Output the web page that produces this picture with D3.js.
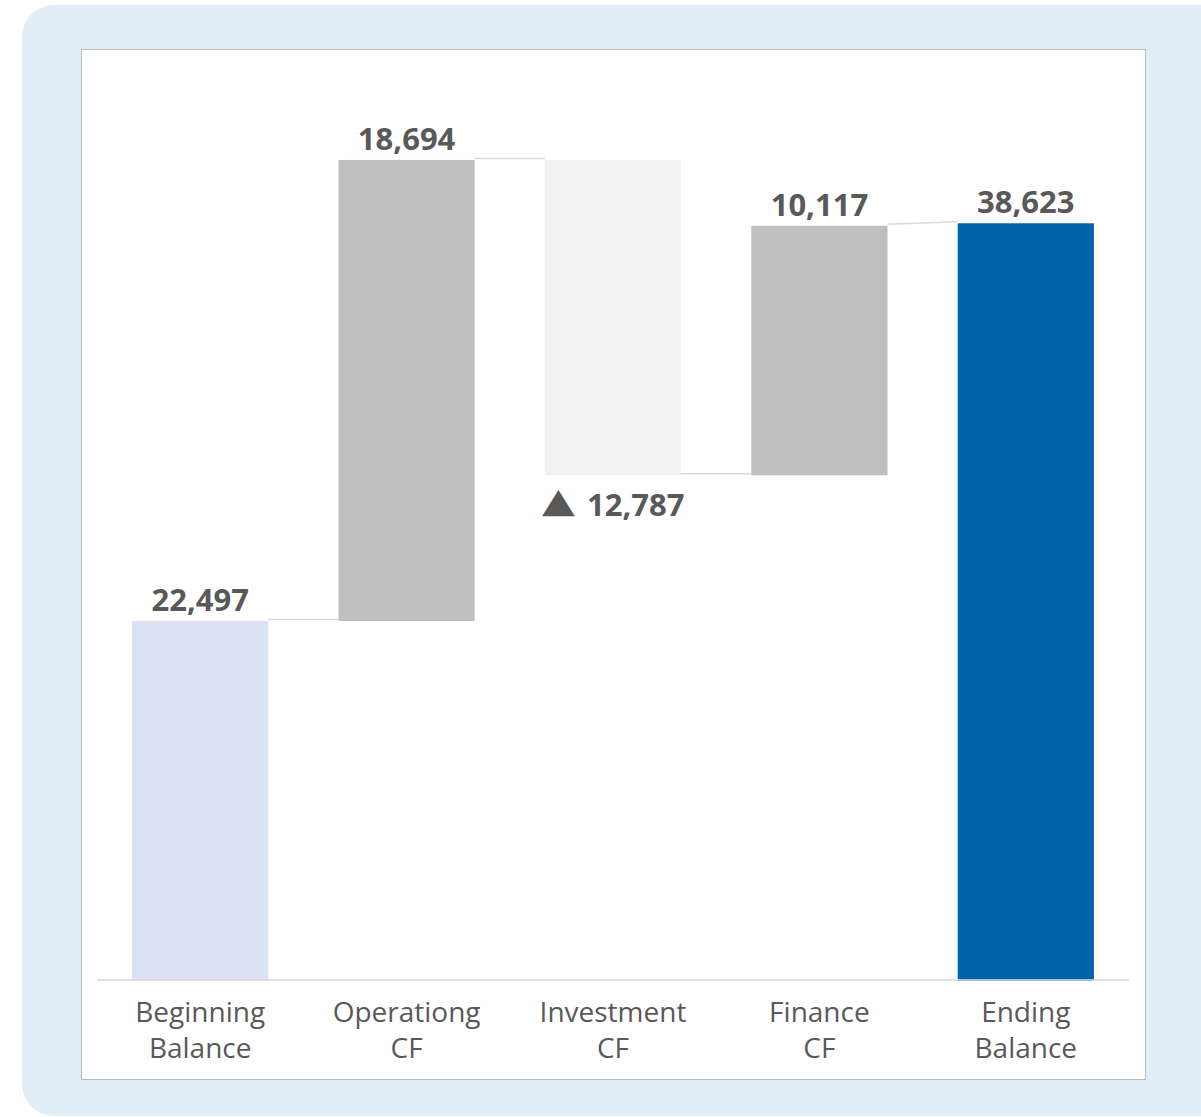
<!DOCTYPE html>
<html>
<head>
<meta charset="utf-8">
<script src="https://cdn.jsdelivr.net/npm/d3@7"></script>
<style>
  html, body { margin: 0; padding: 0; background: #ffffff; }
  svg { display: block; }
</style>
</head>
<body>
<div id="chart"></div>
<script>
// # Chart data
const categories = ['Beginning Balance', 'Operationg CF', 'Investment CF', 'Finance CF', 'Ending Balance']
const labelLines = [['Beginning', 'Balance'], ['Operationg', 'CF'], ['Investment', 'CF'], ['Finance', 'CF'], ['Ending', 'Balance']]
const values = [22497, 18694, -12787, 10117, 38623]
const isTotal = [true, false, false, false, true]
const barColors = ['#dae3f3', '#bfbfbf', '#f2f2f2', '#bfbfbf', '#0064a8']

// # Layout settings
const width = 1201
const height = 1117
const textColor = '#595959'
const gridColor = '#d9d9d9'

const svg = d3.select('#chart')
    .append('svg')
    .attr('width', width)
    .attr('height', height)

// # Outer background + inner panel
svg.append('rect')
    .attr('x', 22).attr('y', 5)
    .attr('width', 1210).attr('height', 1111)
    .attr('rx', 32)
    .attr('fill', '#e1edf7')

svg.append('rect')
    .attr('x', 81.5).attr('y', 49.5)
    .attr('width', 1064).attr('height', 1030)
    .attr('fill', '#ffffff')
    .attr('stroke', '#b4bcc4')
    .attr('stroke-width', 1)

// # Scales
const x = d3.scaleBand()
    .domain(categories)
    .range([97, 1129])
    .paddingInner(0.34)
    .paddingOuter(0.17)

const y = d3.scaleLinear()
    .domain([7900, 45000])
    .range([981, 66])

// # Waterfall steps
let running = 0
const steps = categories.map((c, i) => {
    let start, end
    if (isTotal[i]) {
        start = y.domain()[0]
        end = values[i]
        running = values[i]
    } else {
        start = running
        end = running + values[i]
        running = end
    }
    return {cat: c, i: i, start: start, end: end, value: values[i]}
})

// # Bars
svg.append('g')
    .selectAll('rect')
    .data(steps)
    .enter().append('rect')
    .attr('x', d => x(d.cat))
    .attr('width', x.bandwidth())
    .attr('y', d => y(Math.max(d.start, d.end)))
    .attr('height', d => Math.abs(y(d.start) - y(d.end)))
    .attr('fill', (d, i) => barColors[i])

// # Connectors
const links = d3.pairs(steps)
svg.append('g')
    .selectAll('line')
    .data(links)
    .enter().append('line')
    .attr('x1', d => x(d[0].cat) + x.bandwidth())
    .attr('x2', d => x(d[1].cat))
    .attr('y1', d => y(d[0].end) - 1.5)
    .attr('y2', d => y(isTotal[d[1].i] ? d[1].end : d[1].start) - 1.5)
    .attr('stroke', gridColor)
    .attr('stroke-width', 1.5)

// # Axis line
svg.append('line')
    .attr('x1', 97).attr('x2', 1129)
    .attr('y1', 980).attr('y2', 980)
    .attr('stroke', gridColor)
    .attr('stroke-width', 2)
    .attr('opacity', 0.8)

// # Value labels
const fmt = d3.format(',')
const valueLabels = svg.append('g')
    .selectAll('g')
    .data(steps)
    .enter().append('g')
    .attr('transform', d => {
        const cx = x(d.cat) + x.bandwidth() / 2
        const ty = d.value < 0 ? y(d.end) + 41 : y(Math.max(d.start, d.end)) - 10
        return 'translate(' + cx + ',' + ty + ')'
    })
    .attr('font-family', 'Open Sans, sans-serif')
    .attr('font-weight', 'bold')
    .attr('font-size', 31)
    .attr('fill', textColor)

valueLabels.append('text')
    .attr('x', d => d.value < 0 ? -26 : 0)
    .attr('text-anchor', d => d.value < 0 ? 'start' : 'middle')
    .text(d => fmt(Math.abs(d.value)))

// # Decrease marker for negative steps
valueLabels.filter(d => d.value < 0)
    .append('text')
    .attr('transform', 'translate(-38,-4) scale(1.38,1.1)')
    .attr('text-anchor', 'end')
    .attr('font-family', 'DejaVu Sans, sans-serif')
    .attr('font-size', 31)
    .text('\u25B2')

// # Category labels
const catLabels = svg.append('g')
    .selectAll('text')
    .data(steps)
    .enter().append('text')
    .attr('text-anchor', 'middle')
    .attr('font-family', 'Open Sans, sans-serif')
    .attr('font-size', 28)
    .attr('fill', textColor)

catLabels.selectAll('tspan')
    .data(d => labelLines[d.i].map(t => ({t: t, cx: x(d.cat) + x.bandwidth() / 2})))
    .enter().append('tspan')
    .attr('x', d => d.cx)
    .attr('y', (d, j) => 1022 + j * 36)
    .text(d => d.t)
</script>
</body>
</html>
